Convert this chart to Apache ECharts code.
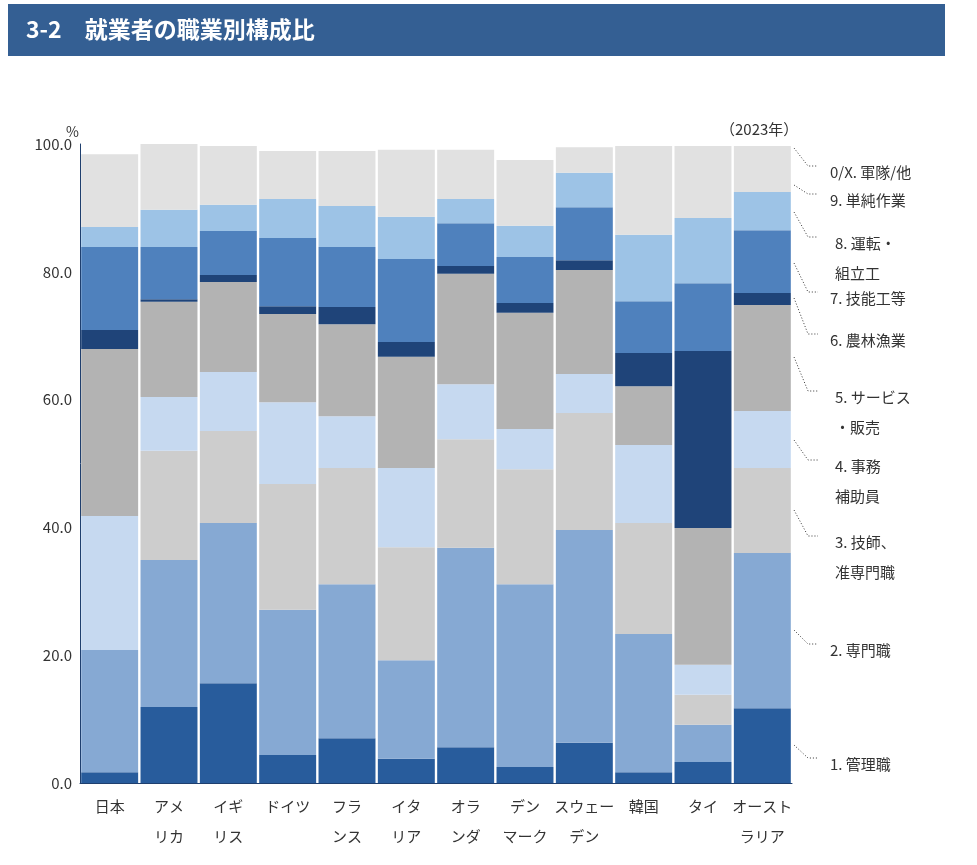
<html>
<head>
<meta charset="utf-8">
<script src="https://cdn.jsdelivr.net/npm/echarts@6/dist/echarts.min.js"></script>
</head>
<body style="margin:0">
<div id="main" style="width:977px;height:865px;"></div>
<script>
var countries = ['日本','アメ\nリカ','イギ\nリス','ドイツ','フラ\nンス','イタ\nリア','オラ\nンダ','デン\nマーク','スウェー\nデン','韓国','タイ','オースト\nラリア'];
var s1 = [1.7,11.9,15.6,4.4,7.0,3.8,5.6,2.5,6.3,1.7,3.3,11.7];
var s2 = [19.1,23.0,25.1,22.7,24.1,15.4,31.2,28.6,33.3,21.6,5.8,24.3];
var s3 = [0,17.1,14.4,19.7,18.2,17.7,17.0,18.0,18.3,17.4,4.7,13.3];
var s4 = [21.0,8.4,9.2,12.8,8.1,12.4,8.6,6.3,6.1,12.2,4.7,8.9];
var s5 = [26.1,14.9,14.1,13.8,14.4,17.4,17.3,18.2,16.3,9.2,21.4,16.6];
var s6 = [3.0,0.4,1.1,1.2,2.7,2.3,1.2,1.5,1.5,5.2,27.7,1.9];
var s7 = [13.0,8.2,6.9,10.7,9.4,13.0,6.7,7.2,8.3,8.1,10.6,9.8];
var s8 = [3.1,5.8,4.1,6.1,6.4,6.6,3.8,4.9,5.4,10.4,10.2,6.0];
var s9 = [11.4,10.3,9.2,7.5,8.6,10.5,7.7,10.3,4.0,13.9,11.3,7.2];
var seriesNames = ['1. 管理職','2. 専門職','3. 技師、准専門職','4. 事務補助員','5. サービス・販売','6. 農林漁業','7. 技能工等','8. 運転・組立工','9. 単純作業'];
var colors = ['#285c9c','#86a9d3','#cdcdcd','#c6d9f0','#b3b3b3','#1f4479','#4f81bd','#9dc3e6','#e1e1e1'];
var data = [s1,s2,s3,s4,s5,s6,s7,s8,s9];

var chart = echarts.init(document.getElementById('main'));
var series = data.map(function(d,i){
  return {name:seriesNames[i],type:'bar',stack:'a',data:d,barCategoryGap:'4%',
    itemStyle:{color:colors[i]},emphasis:{disabled:true}};
});

// right-side labels with dotted leaders: [label, y label, y line start]
var labels = [
  ['0/X. 軍隊/他',157,148],['9. 単純作業',185,185],['8. 運転・\n組立工',228,212],['7. 技能工等',283,263],
  ['6. 農林漁業',325,298],['5. サービス\n・販売',382,357],['4. 事務\n補助員',451,440],['3. 技師、\n准専門職',527,510],
  ['2. 専門職',635,630],['1. 管理職',749,745]
];
var graphics = [
  {type:'rect',shape:{x:8,y:4,width:937,height:52},style:{fill:'#345f93'}},
  {type:'text',x:26,y:18,style:{text:'3-2　就業者の職業別構成比',fill:'#fff',font:'bold 23px "Noto Sans CJK JP"'}},
  {type:'text',x:720,y:122,style:{text:'（2023年）',fill:'#333',font:'15px "Noto Sans CJK JP"'}},
  {type:'text',x:66,y:125,style:{text:'%',fill:'#333',font:'14px "Noto Sans CJK JP"'}},
  {type:'rect',shape:{x:90,y:691,width:42,height:28},style:{fill:'#e8eef6'}},
  {type:'text',x:96,y:697,style:{text:'2+3',fill:'#222',font:'15px "Noto Sans CJK JP"'}}
];
labels.forEach(function(l){
  var lines = l[0].split('\n');
  graphics.push({type:'polyline',shape:{points:[[794,l[2]],[808,l[1]+9],[818,l[1]+9]]},style:{stroke:'#333',lineDash:[1,2],lineWidth:1}});
  graphics.push({type:'text',x:lines.length>1?835:830,y:l[1],style:{text:l[0],fill:'#333',font:'15px "Noto Sans CJK JP"',lineHeight:30,align:'left'}});
});

chart.setOption({
  animation:false,
  textStyle:{fontFamily:'Noto Sans CJK JP'},
  grid:{left:80,right:185,top:144,bottom:82},
  xAxis:{type:'category',data:countries,axisTick:{show:false},
    axisLine:{lineStyle:{color:'#1f3f6e'}},
    axisLabel:{color:'#333',fontSize:15,lineHeight:30,interval:0,verticalAlign:'top'}},
  yAxis:{type:'value',min:0,max:100,interval:20,
    axisLine:{show:true,lineStyle:{color:'#1f3f6e'}},axisTick:{show:false},
    splitLine:{show:false},splitArea:{show:false},
    axisLabel:{color:'#333',fontSize:15,formatter:function(v){return v.toFixed(1);}}},
  series:series,
  graphic:graphics
});
</script>
</body>
</html>
